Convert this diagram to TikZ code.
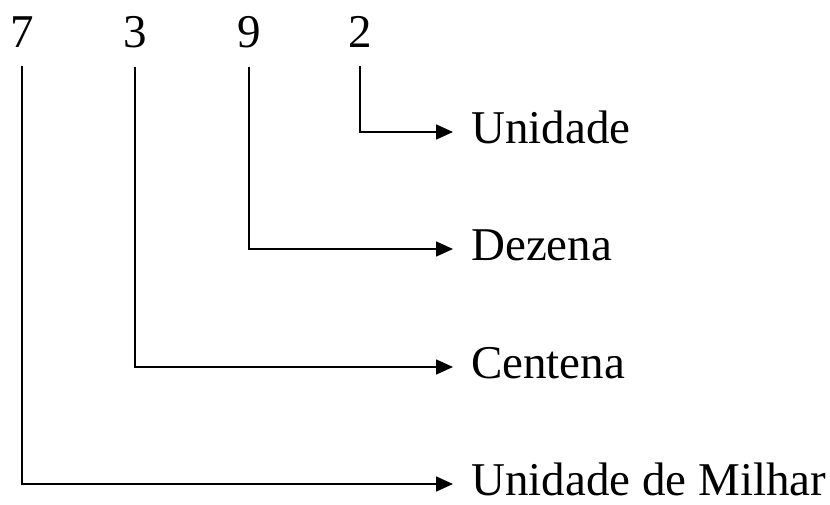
\documentclass[tikz,border=0pt]{standalone}
\usepackage{fontspec}
\setmainfont{Liberation Serif}
\usetikzlibrary{arrows.meta}

\begin{document}
\begin{tikzpicture}[
    x=1pt, y=-1pt,
    digit/.style={inner sep=0pt, anchor=base, font=\fontsize{47}{56}\selectfont},
    place/.style={inner sep=0pt, anchor=base west, font=\fontsize{47}{56}\selectfont},
    conn/.style={draw, line width=1.6pt, shorten <=19pt, shorten >=18pt,
                 -{Triangle[length=17pt, width=15pt]}}
]
    \useasboundingbox (0,0) rectangle (830,504);

    % Digits of the number
    \node[digit] (d7) at (22, 47) {7};
    \node[digit] (d3) at (135, 47) {3};
    \node[digit] (d9) at (249, 47) {9};
    \node[digit] (d2) at (360, 47) {2};

    % Place names
    \node[place] (unid)   at (471, 143) {Unidade};
    \node[place] (dez)    at (471, 260) {Dezena};
    \node[place] (cent)   at (471, 378) {Centena};
    \node[place] (milhar) at (471, 495) {Unidade de Milhar};

    % Connectors (arrow at the middle of the small letters)
    \draw[conn] (d2.south) |- ([yshift=11pt]unid.base west);
    \draw[conn] (d9.south) |- ([yshift=11pt]dez.base west);
    \draw[conn] (d3.south) |- ([yshift=11pt]cent.base west);
    \draw[conn] (d7.south) |- ([yshift=11pt]milhar.base west);

\end{tikzpicture}
\end{document}
